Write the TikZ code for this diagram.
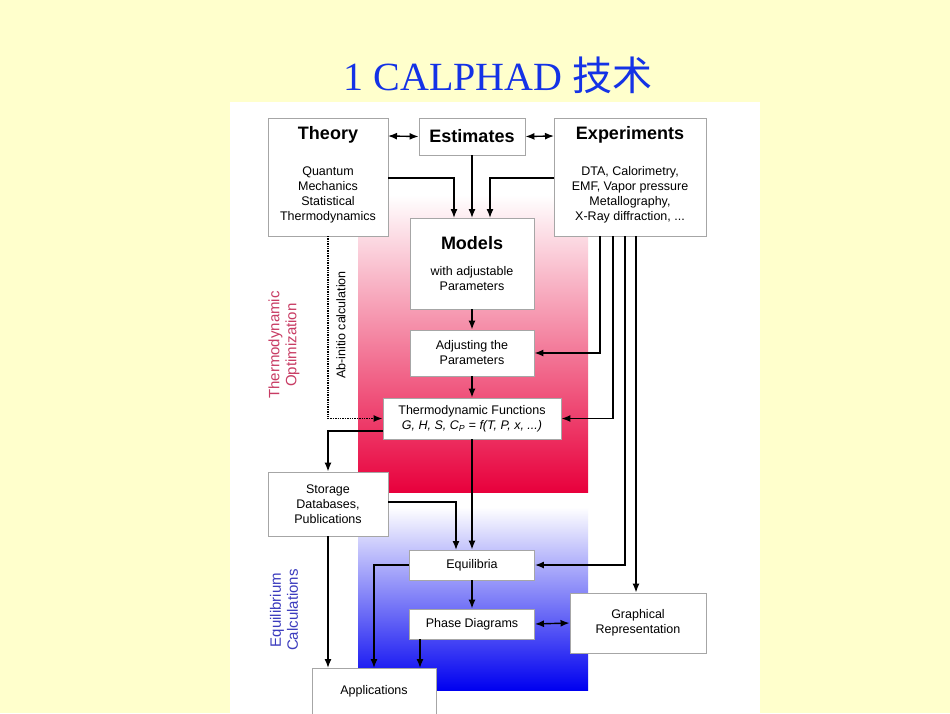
\documentclass[tikz,border=0pt]{standalone}
\usepackage{fontspec}
\setmainfont{Liberation Sans}
\newfontfamily\tserif{Liberation Serif}
\newfontfamily\cjk{Noto Sans CJK SC}
\usetikzlibrary{arrows.meta}
\definecolor{bgy}{RGB}{255,255,204}
\definecolor{redg}{RGB}{232,0,60}
\definecolor{blueg}{RGB}{0,0,240}
\definecolor{optc}{RGB}{200,60,100}
\definecolor{eqc}{RGB}{60,60,190}
\definecolor{titc}{RGB}{20,50,230}
\begin{document}
\begin{tikzpicture}[x=1pt,y=-1pt,
  box/.style={draw=gray!70,fill=white,line width=0.9pt},
  ar/.style={-{Latex[length=9pt,width=7pt]},line width=1.4pt},
  dar/.style={{Latex[length=9pt,width=7pt]}-{Latex[length=9pt,width=7pt]},line width=1.4pt},
  sm/.style={font=\fontsize{12.5}{15}\selectfont,align=center},
  bg/.style={font=\fontsize{18}{20}\selectfont\bfseries}]
\useasboundingbox (0,0) rectangle (950,713);
\fill[bgy] (0,0) rectangle (950,713);
\fill[white] (230,102) rectangle (760,713);
\shade[top color=white,bottom color=redg] (358,195) rectangle (588,492);
\shade[top color=white,bottom color=blueg] (358,507) rectangle (588,690);
\node[font=\fontsize{40}{42}\selectfont,text=titc] (title) at (498,75) {\tserif 1 CALPHAD \cjk 技术};
% boxes
\draw[box] (268,118) rectangle (388,236);
\node[bg] (theoryT) at (328,135) {Theory};
\node[sm] (theoryB) at (328,195) {Quantum\\Mechanics\\Statistical\\Thermodynamics};
\node[box,minimum width=106,minimum height=37,bg] (est) at (472,136.5) {Estimates};
\draw[box] (554,118) rectangle (706,236);
\node[bg] (expT) at (630,135) {Experiments};
\node[sm] (expB) at (630,195) {DTA, Calorimetry,\\EMF, Vapor pressure\\Metallography,\\X-Ray diffraction, ...};
\coordinate (theoryR) at (388,178);
\coordinate (expL) at (554,178);
\draw[box] (410,218) rectangle (534,309);
\node[bg] (models) at (472,243) {Models};
\node[sm] (modB) at (472,279) {with adjustable\\Parameters};
\node[box,sm,minimum width=124,minimum height=46] (adj) at (472,353) {Adjusting the\\Parameters};
\node[box,sm,minimum width=178,minimum height=41,inner sep=1pt] (tf) at (472,418.5) {Thermodynamic Functions\\\textit{G, H, S, C\textsubscript{P} = f(T, P, x, ...)}};
\node[box,sm,minimum width=120,minimum height=64] (sto) at (328,504) {Storage\\Databases,\\Publications};
\node[box,sm,minimum width=125,minimum height=30] (eq) at (472,565) {Equilibria};
\node[box,sm,minimum width=125,minimum height=30] (ph) at (472,624) {Phase Diagrams};
\node[box,sm,minimum width=136,minimum height=60] (gr) at (638,623) {Graphical\\Representation};
\node[box,sm,minimum width=124,minimum height=58,anchor=north] (app) at (374,668) {};
\node[sm] (appT) at (374,691) {Applications};
% labels
\node[sm,rotate=90,text=optc,font=\fontsize{15}{17}\selectfont] (lopt) at (284,345) {Thermodynamic\\Optimization};
\node[sm,rotate=90,text=eqc,font=\fontsize{15}{17}\selectfont] (leq) at (284,610) {Equilibrium\\Calculations};
\node[sm,rotate=90] (abi) at (341,325) {Ab-initio calculation};
% connectors
\draw[dar] (388,136) -- (est.west);
\draw[dar] (est.east) -- (554,136);
\draw[ar] (theoryR) -| (454,218);
\draw[ar] (est.south) -- (472,218);
\draw[ar] (expL) -| (490,218);
\draw[ar] (472,309) -- (adj.north);
\draw[ar] (adj.south) -- (tf.north);
\draw[ar] (600,236) |- (adj.east);
\draw[ar] (613,236) |- (tf.east);
\draw[ar] (625,236) |- (eq.east);
\draw[ar] (636,236) -- (gr.north -| 636,0);
\draw[ar,densely dotted] (328,236) |- (tf.west);
\draw[ar] (383,431) -| (sto.north);
\draw[ar] (tf.south) -- (eq.north);
\draw[ar] (sto.east |- 0,502) -| (456,550);
\draw[ar] (sto.south) -- (328,668);
\draw[ar] (eq.west) -| (374,668);
\draw[ar] (eq.south) -- (ph.north);
\draw[ar] (420,639) -- (420,668);
\draw[dar] (ph.east) -- (gr.west);
\end{tikzpicture}
\end{document}
